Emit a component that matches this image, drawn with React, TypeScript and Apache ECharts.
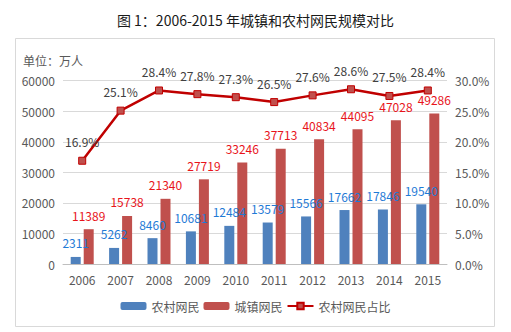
import React, { useEffect, useRef } from "react";
import * as echarts from "echarts";

const years = ["2006", "2007", "2008", "2009", "2010", "2011", "2012", "2013", "2014", "2015"];
const rural = [2311, 5262, 8460, 10681, 12484, 13579, 15566, 17662, 17846, 19540];
const urban = [11389, 15738, 21340, 27719, 33246, 37713, 40834, 44095, 47028, 49286];
const ruralShare = [16.9, 25.1, 28.4, 27.8, 27.3, 26.5, 27.6, 28.6, 27.5, 28.4];
const seriesNames = ["农村网民", "城镇网民", "农村网民占比"];

const FONT = "'Noto Sans CJK SC', 'Microsoft YaHei', sans-serif";

export default function App() {
  const ref = useRef<HTMLDivElement>(null);
  useEffect(() => {
    if (!ref.current) return;
    const chart = echarts.init(ref.current, null, { renderer: "svg" });
    chart.setOption({
      animation: false,
      backgroundColor: "#ffffff",
      textStyle: { fontFamily: FONT },
      title: {
        text: "图 1：2006-2015 年城镇和农村网民规模对比",
        left: "center",
        top: 8,
        textStyle: { fontFamily: FONT, fontSize: 14, fontWeight: "normal", color: "#1a1a1a" },
      },
      graphic: [
        {
          type: "rect",
          shape: { x: 15.5, y: 38.5, width: 479, height: 288 },
          style: { fill: "none", stroke: "#d9d9d9", lineWidth: 1 },
          z: -1,
        },
        {
          type: "text",
          left: 23,
          top: 54,
          style: { text: "单位：万人", fontFamily: FONT, fontSize: 12, fill: "#595959" },
        },
      ],
      grid: { left: 63, right: 64, top: 80.7, bottom: 68, containLabel: false },
      legend: {
        bottom: 15,
        left: "center",
        itemWidth: 26,
        itemHeight: 8,
        itemGap: 4,
        textStyle: { fontFamily: FONT, fontSize: 12, color: "#595959" },
        data: seriesNames,
      },
      xAxis: {
        type: "category",
        data: years,
        axisLine: { lineStyle: { color: "#bfbfbf" } },
        axisTick: { show: false },
        axisLabel: { color: "#595959", fontSize: 12, margin: 9, fontFamily: FONT },
      },
      yAxis: [
        {
          type: "value",
          min: 0,
          max: 60000,
          interval: 10000,
          axisLine: { show: false },
          axisTick: { show: false },
          axisLabel: {
            color: "#595959",
            fontSize: 12,
            margin: 8,
            fontFamily: FONT,
            formatter: (v: number) => String(v),
          },
          splitLine: { lineStyle: { color: "#d9d9d9" } },
        },
        {
          type: "value",
          min: 0,
          max: 30,
          interval: 5,
          axisLine: { show: false },
          axisTick: { show: false },
          splitLine: { show: false },
          axisLabel: {
            color: "#595959",
            fontSize: 12,
            margin: 8,
            fontFamily: FONT,
            formatter: (v: number) => v.toFixed(1) + "%",
          },
        },
      ],
      series: [
        {
          name: seriesNames[0],
          type: "bar",
          data: rural,
          barWidth: 10,
          barGap: "30%",
          itemStyle: { color: "#4F81BD" },
          label: {
            show: true,
            position: "top",
            distance: 8,
            color: "#1F7AD6",
            fontSize: 12,
            fontFamily: FONT,
          },
        },
        {
          name: seriesNames[1],
          type: "bar",
          data: urban,
          barWidth: 10,
          itemStyle: { color: "#C0504D" },
          label: {
            show: true,
            position: "top",
            distance: 8,
            color: "#E8141B",
            fontSize: 12,
            fontFamily: FONT,
          },
        },
        {
          name: seriesNames[2],
          type: "line",
          yAxisIndex: 1,
          data: ruralShare,
          symbol: "rect",
          symbolSize: 7,
          lineStyle: { color: "#C00000", width: 2.5 },
          itemStyle: { color: "#C0504D", borderColor: "#C00000", borderWidth: 1 },
          label: {
            show: true,
            position: "top",
            distance: 9,
            color: "#404040",
            fontSize: 12,
            fontFamily: FONT,
            formatter: (p: any) => Number(p.value).toFixed(1) + "%",
          },
          z: 5,
        },
      ],
    });
    return () => chart.dispose();
  }, []);
  return (
    <div
      ref={ref}
      style={{ width: 511, height: 332, position: "absolute", left: 0, top: 0 }}
    />
  );
}
